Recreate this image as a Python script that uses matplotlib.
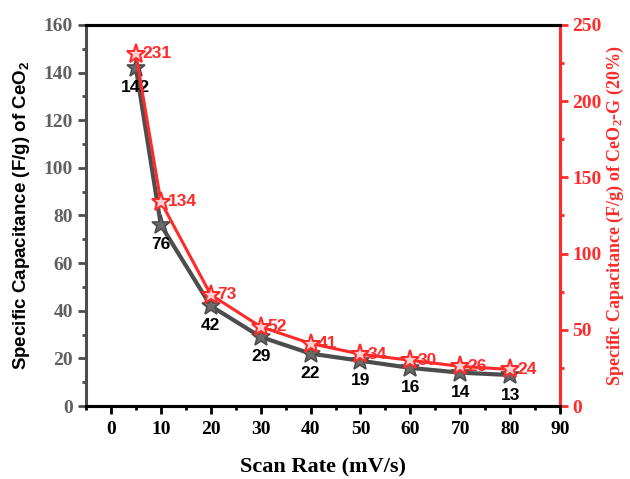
import matplotlib
matplotlib.use("Agg")
import matplotlib.pyplot as plt
from matplotlib.ticker import MultipleLocator

plt.rcParams["mathtext.default"] = "regular"

# Scan rates and specific capacitance values
scan_rate = [5, 10, 20, 30, 40, 50, 60, 70, 80]
cap_ceo2 = [142, 76, 42, 29, 22, 19, 16, 14, 13]
cap_ceo2_g = [231, 134, 73, 52, 41, 34, 30, 26, 24]

GRAY = "#4d4d4d"
TICK_GRAY = "#606060"
RED = "#ff2a2a"
serif = "Liberation Serif"
sans = "Liberation Sans"

fig = plt.figure(figsize=(6.3, 4.79), dpi=100)
ax = fig.add_axes([0.1365, 0.1524, 0.7525, 0.7956])
ax2 = ax.twinx()

ax.plot(scan_rate, cap_ceo2, color=GRAY, lw=3, marker="*", ms=14,
        mfc="#6a6a6a", mec=GRAY, mew=1.2, zorder=2)
ax2.plot(scan_rate, cap_ceo2_g, color=RED, lw=2.2, marker="*", ms=14,
         mfc="#ffd0d0", mec=RED, mew=1.5, zorder=3)

for x, y in zip(scan_rate, cap_ceo2):
    ax.annotate(str(y), (x, y), xytext=(0, -9), textcoords="offset points",
                ha="center", va="top", fontsize=12.5, fontweight="bold",
                family=sans, color="black")
for x, y in zip(scan_rate, cap_ceo2_g):
    ax2.annotate(str(y), (x, y), xytext=(5, 0), textcoords="offset points",
                 ha="left", va="center", fontsize=12.5, fontweight="bold",
                 family=sans, color=RED)

ax.set_xlim(-5, 90)
ax.set_ylim(0, 160)
ax2.set_ylim(0, 250)
ax2.set_zorder(ax.get_zorder() + 1)
ax2.patch.set_visible(False)

ax.xaxis.set_major_locator(MultipleLocator(10))
ax.xaxis.set_minor_locator(MultipleLocator(5))
ax.yaxis.set_major_locator(MultipleLocator(20))
ax.yaxis.set_minor_locator(MultipleLocator(10))
ax2.yaxis.set_major_locator(MultipleLocator(50))
ax2.yaxis.set_minor_locator(MultipleLocator(25))

for a in (ax, ax2):
    for s in a.spines.values():
        s.set_linewidth(2.2)
ax.spines["left"].set_color(GRAY)
ax.spines["bottom"].set_color("black")
ax.spines["top"].set_color("black")
ax2.spines["right"].set_color(RED)
ax2.spines["left"].set_visible(False)

ax.tick_params(axis="x", which="major", direction="out", length=6, width=2,
               colors="black", labelsize=14, pad=5)
ax.tick_params(axis="x", which="minor", direction="out", length=3, width=2,
               colors="black")
ax.tick_params(axis="y", which="major", direction="out", length=6, width=2,
               color=GRAY, labelcolor=TICK_GRAY, labelsize=14)
ax.tick_params(axis="y", which="minor", direction="out", length=3, width=2,
               colors=GRAY)
ax2.tick_params(axis="y", which="major", direction="out", length=6, width=2,
                colors=RED, labelsize=14, pad=3)
ax2.tick_params(axis="y", which="minor", direction="out", length=3, width=2,
                colors=RED)

for lbl in ax.get_xticklabels() + ax.get_yticklabels() + ax2.get_yticklabels():
    lbl.set_family(serif)
    lbl.set_fontweight("bold")

ax.set_xlabel("Scan Rate (mV/s)", family=serif, fontweight="bold",
              fontsize=16, labelpad=14)
ax.set_ylabel("Specific Capacitance (F/g) of CeO$_2$", family=sans,
              fontweight="bold", fontsize=13.5, color="black", labelpad=8)
ax2.set_ylabel("Specific Capacitance (F/g) of CeO$_2$-G (20%)", family=serif,
               fontweight="bold", fontsize=13, color=RED, labelpad=2)

fig.savefig("out.png", dpi=100)
